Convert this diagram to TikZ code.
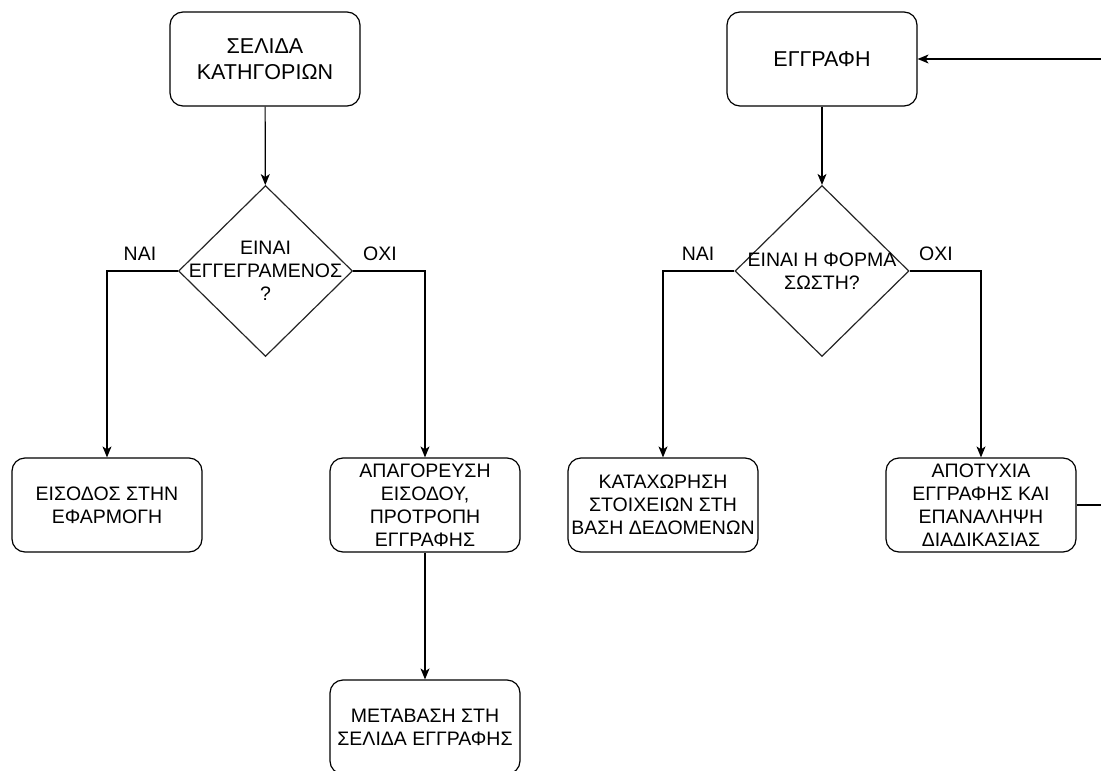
\documentclass[tikz,border=0pt]{standalone}
\usepackage{fontspec}
\setmainfont{Liberation Sans}
\usetikzlibrary{arrows.meta,shapes.geometric}
\begin{document}
\begin{tikzpicture}[x=1pt,y=-1pt,
  txt/.style={font=\fontsize{19.5}{23}\selectfont,align=center,inner sep=0pt},
  box/.style={txt,draw=black,line width=1.2pt,rounded corners=13pt,minimum width=190pt,minimum height=94pt},
  topbox/.style={box,font=\fontsize{21.5}{25.5}\selectfont},
  decision/.style={draw=black!85,line width=1.2pt,diamond,minimum width=174pt,minimum height=171pt,inner sep=0pt},
  lbl/.style={font=\fontsize{19.5}{23}\selectfont,inner sep=0pt},
  conn/.style={line width=1.2pt,-{Stealth[length=11pt,width=9pt,inset=3pt]}},
  wire/.style={line width=1.2pt}]
\useasboundingbox (0,0) rectangle (1101,771);
\clip (0,0) rectangle (1101,771);

% left flow
\node[topbox] (selida) at (265,59) {ΣΕΛΙΔΑ\\ΚΑΤΗΓΟΡΙΩΝ};
\node[decision] (d1) at (265.5,271) {};
\node[txt] (d1t) at (265.5,271) {ΕΙΝΑΙ\\ΕΓΓΕΓΡΑΜΕΝΟΣ\\?};
\node[box] (eisodos) at (107,505) {ΕΙΣΟΔΟΣ ΣΤΗΝ\\ΕΦΑΡΜΟΓΗ};
\node[box] (apag) at (425,505) {ΑΠΑΓΟΡΕΥΣΗ\\ΕΙΣΟΔΟΥ,\\ΠΡΟΤΡΟΠΗ\\ΕΓΓΡΑΦΗΣ};
\node[box] (metab) at (425,727) {ΜΕΤΑΒΑΣΗ ΣΤΗ\\ΣΕΛΙΔΑ ΕΓΓΡΑΦΗΣ};
\node[lbl] (nai1) at (140,254) {ΝΑΙ};
\node[lbl] (oxi1) at (380,254) {ΟΧΙ};

\draw[conn] (selida) -- (d1);
\draw[conn] (d1.west) -| (eisodos.north);
\draw[conn] (d1.east) -| (apag.north);
\draw[conn] (apag) -- (metab);

% right flow
\node[topbox] (eggr) at (822,59) {ΕΓΓΡΑΦΗ};
\node[decision] (d2) at (822,271) {};
\node[txt] (d2t) at (822,271) {ΕΙΝΑΙ Η ΦΟΡΜΑ\\ΣΩΣΤΗ?};
\node[box] (katax) at (663,505) {ΚΑΤΑΧΩΡΗΣΗ\\ΣΤΟΙΧΕΙΩΝ ΣΤΗ\\ΒΑΣΗ ΔΕΔΟΜΕΝΩΝ};
\node[box] (apot) at (981,505) {ΑΠΟΤΥΧΙΑ\\ΕΓΓΡΑΦΗΣ ΚΑΙ\\ΕΠΑΝΑΛΗΨΗ\\ΔΙΑΔΙΚΑΣΙΑΣ};
\node[lbl] (nai2) at (698,254) {ΝΑΙ};
\node[lbl] (oxi2) at (936,254) {ΟΧΙ};
\coordinate (loop) at (1120,505);

\draw[conn] (eggr) -- (d2);
\draw[conn] (d2.west) -| (katax.north);
\draw[conn] (d2.east) -| (apot.north);
\draw[conn] (apot.east) -- (loop) |- (eggr.east);
\end{tikzpicture}
\end{document}
